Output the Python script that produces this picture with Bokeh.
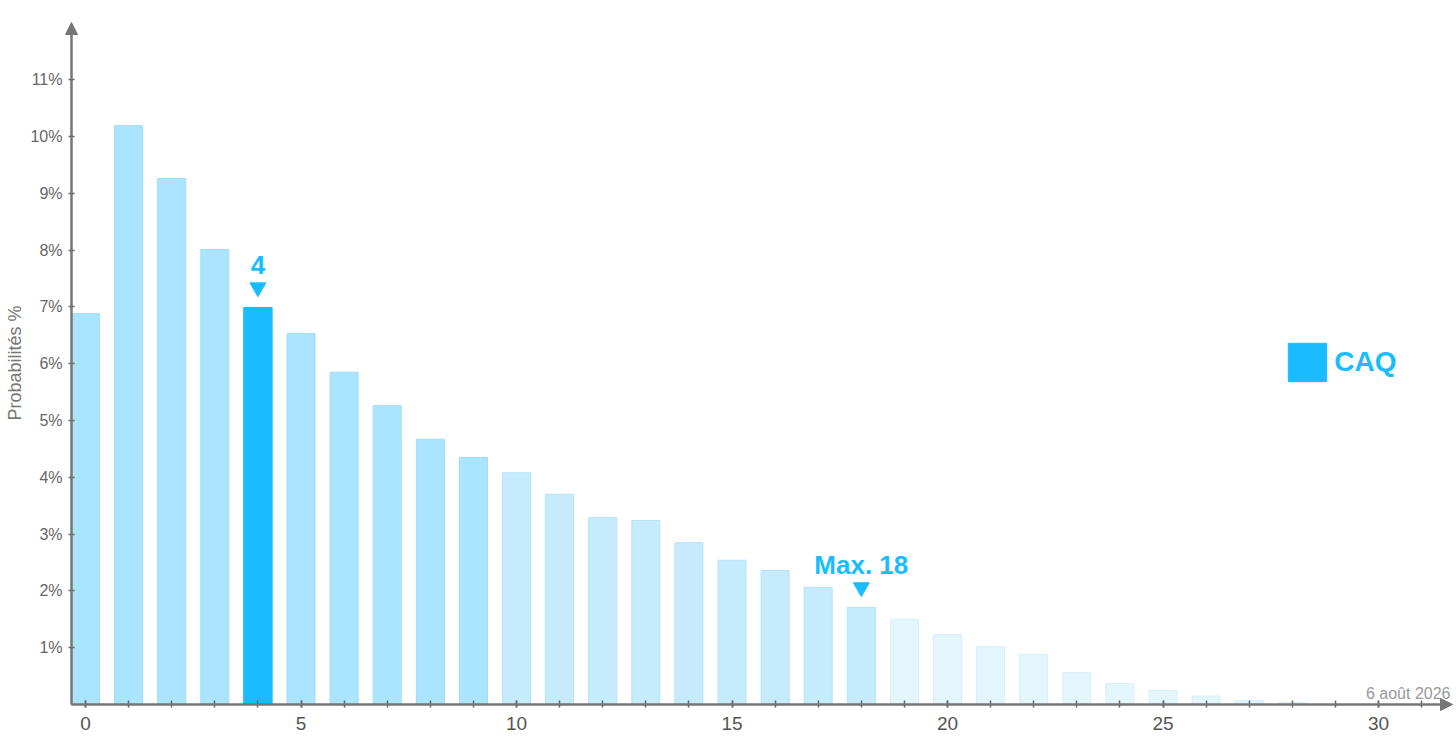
from bokeh.plotting import figure
from bokeh.embed import file_html
from bokeh.resources import INLINE
from bokeh.core.properties import value
from bokeh.models import (Range1d, FixedTicker, SingleIntervalTicker, PrintfTickFormatter,
                          Arrow, NormalHead, Legend, LegendItem, Label, ColumnDataSource,
                          LinearAxis)

# ---------------- data ----------------
seats = list(range(29))
probs = [6.88, 10.19, 9.26, 8.01, 6.99, 6.53, 5.85, 5.26, 4.67, 4.35,
         4.08, 3.70, 3.29, 3.24, 2.85, 2.54, 2.36, 2.06, 1.71, 1.50,
         1.23, 1.02, 0.88, 0.56, 0.37, 0.25, 0.15, 0.07, 0.03]
median_seats = 4
band_max = 9
max_seats = 18
party = "CAQ"
date_text = "6 août 2026"
y_ticks = [1, 2, 3, 4, 5, 6, 7, 8, 9, 10, 11]
x_tick_step = 5

# ---------------- style ----------------
FONT = "Liberation Sans"
HL = "#19bdff"
W, H = 1456, 747
ML, MR, MT, MB = 64, 0, 14, 36
PPX, PPY = 43.1, 56.8          # pixels per seat / per percent
X_AX, Y_AX = -0.325, 0.0       # where the axes cross
X0 = X_AX - (71 - ML) / PPX
X1 = X0 + (W - ML - MR) / PPX
Y0 = Y_AX - (H - MB - 704) / PPY
Y1 = Y0 + (H - MT - MB) / PPY
X_TIP = X_AX + (1452 - 71) / PPX
Y_TIP = Y_AX + (704 - 22) / PPY

p = figure(width=W, height=H, output_backend="svg", toolbar_location=None,
           x_range=Range1d(X0, X1), y_range=Range1d(Y0, Y1),
           min_border_left=ML, min_border_right=MR, min_border_top=MT, min_border_bottom=MB)
p.outline_line_color = None
p.xgrid.visible = False
p.ygrid.visible = False
p.background_fill_color = "white"
p.border_fill_color = "white"

fills, lines = [], []
for s in seats:
    if s == median_seats:
        fills.append(HL); lines.append("#12b3f5")
    elif s <= band_max:
        fills.append("#abe5fd"); lines.append("#9edcf8")
    elif s <= max_seats:
        fills.append("#c5ebfd"); lines.append("#b3e3f9")
    else:
        fills.append("#e3f5fd"); lines.append("#d6effb")

src = ColumnDataSource(dict(x=seats, top=probs, fill=fills, line=lines))
p.vbar(x="x", top="top", width=0.65, bottom=Y_AX, source=src,
       fill_color="fill", line_color="line", line_width=1)

# legend renderer (highlight bar only)
hl_src = ColumnDataSource(dict(x=[median_seats], top=[probs[median_seats]]))
hl_r = p.vbar(x="x", top="top", width=0.65, bottom=Y_AX, source=hl_src,
              fill_color=HL, line_color=HL)

# annotations over median and max
ann_x = [median_seats, max_seats]
ann_y = [probs[median_seats], probs[max_seats]]
ann_t = [str(median_seats), "Max. %d" % max_seats]
p.text(x=ann_x, y=ann_y, text=ann_t, text_align="center", text_baseline="alphabetic",
       y_offset=-42, text_font=value(FONT), text_font_style="bold",
       text_font_size="26px", text_color=HL)
p.scatter(x=ann_x, y=[v + 20 / PPY for v in ann_y], marker="inverted_triangle",
          size=16, fill_color=HL, line_color=HL)

# date label
p.add_layout(Label(x=X_TIP, y=0.19, x_offset=-2, text=date_text, text_align="right",
                   text_baseline="alphabetic",
                   text_font=FONT, text_font_size="16px", text_color="#999999"))

AX = "#777777"
TK = "#666666"

# --- label-only axes at the frame edges ---
xa = p.xaxis[0]
xa.ticker = SingleIntervalTicker(interval=x_tick_step)
xa.axis_line_color = None
xa.major_tick_line_color = None
xa.minor_tick_line_color = None
xa.major_tick_out = 0
xa.major_tick_in = 0
xa.major_label_text_font = FONT
xa.major_label_text_font_size = "19px"
xa.major_label_text_color = "#555555"
xa.major_label_standoff = 1

ya = p.yaxis[0]
ya.ticker = FixedTicker(ticks=y_ticks)
ya.formatter = PrintfTickFormatter(format="%d%%")
ya.axis_line_color = None
ya.major_tick_line_color = None
ya.minor_tick_line_color = None
ya.major_tick_out = 0
ya.major_tick_in = 0
ya.major_label_text_font = FONT
ya.major_label_text_font_size = "16px"
ya.major_label_text_color = "#666666"
ya.major_label_standoff = 2
ya.axis_label = "Probabilités %"
ya.axis_label_text_font = FONT
ya.axis_label_text_font_size = "18px"
ya.axis_label_text_font_style = "normal"
ya.axis_label_text_color = "#777777"
ya.axis_label_standoff = 2

# --- line + tick axes crossing at the origin ---
xline = LinearAxis(fixed_location=Y_AX, bounds=(X_AX, X_TIP - 0.2),
                   ticker=SingleIntervalTicker(interval=x_tick_step, num_minor_ticks=x_tick_step),
                   axis_line_color=AX, axis_line_width=2,
                   major_tick_line_color=TK, minor_tick_line_color=TK,
                   major_tick_line_width=1.5, minor_tick_line_width=1.5,
                   major_tick_in=4, major_tick_out=3, minor_tick_in=4, minor_tick_out=3,
                   major_label_text_color=None)
p.add_layout(xline, "below")
yline = LinearAxis(fixed_location=X_AX, bounds=(Y_AX, Y_TIP - 0.2),
                   ticker=FixedTicker(ticks=y_ticks),
                   axis_line_color=AX, axis_line_width=2,
                   major_tick_line_color=TK, major_tick_line_width=1.5,
                   major_tick_in=3, major_tick_out=3, minor_tick_line_color=None,
                   major_label_text_color=None)
p.add_layout(yline, "left")

# axis arrows
p.add_layout(Arrow(end=NormalHead(size=12, fill_color=AX, line_color=AX),
                   x_start=X_AX, y_start=Y_AX, x_end=X_AX, y_end=Y_TIP,
                   line_color=AX, line_width=2))
p.add_layout(Arrow(end=NormalHead(size=12, fill_color=AX, line_color=AX),
                   x_start=X_AX, y_start=Y_AX, x_end=X_TIP, y_end=Y_AX,
                   line_color=AX, line_width=2))

# legend
legend = Legend(items=[LegendItem(label=party, renderers=[hl_r])],
                location=(1288 - ML - 4.8, H - MB - 381 - 4.8), orientation="vertical",
                glyph_width=48, glyph_height=48, label_standoff=3,
                label_text_font=FONT, label_text_font_style="bold",
                label_text_font_size="28px", label_text_color=HL,
                border_line_color=None, background_fill_alpha=0,
                padding=0, margin=0)
p.add_layout(legend)

open("out.html", "w").write(file_html(p, INLINE))
